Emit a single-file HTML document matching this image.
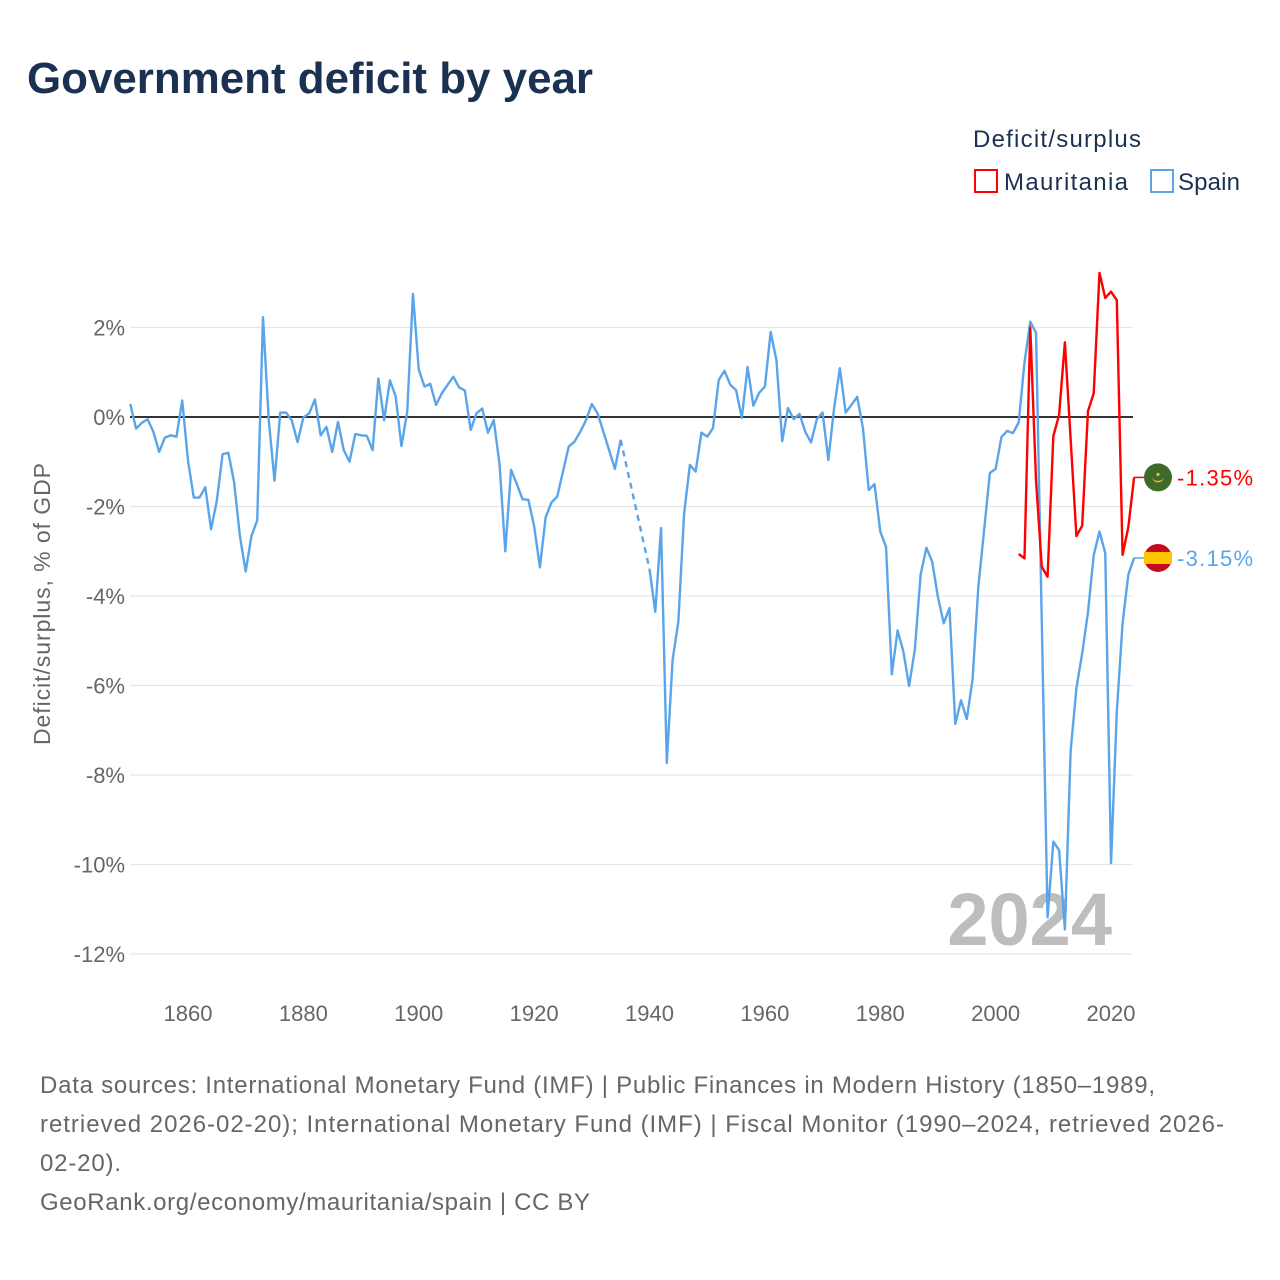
<!DOCTYPE html>
<html><head><meta charset="utf-8"><style>
body{margin:0;background:#fff;font-family:"Liberation Sans",sans-serif;}
#wrap{position:relative;width:1280px;height:1280px;overflow:hidden;}
</style></head><body>
<div id="wrap">
<svg id="chart" width="1280" height="1280" xmlns="http://www.w3.org/2000/svg">
<text x="27" y="93" font-size="44" font-weight="bold" fill="#1b3151" textLength="566" lengthAdjust="spacingAndGlyphs">Government deficit by year</text>
<g>
<text x="973" y="147" font-size="24" fill="#1b3151" textLength="168">Deficit/surplus</text>
<rect x="975" y="170" width="22" height="22" fill="none" stroke="#ff0000" stroke-width="2"/>
<text x="1004" y="190" font-size="24" fill="#1b3151" textLength="124">Mauritania</text>
<rect x="1151" y="170" width="22" height="22" fill="none" stroke="#5aa5ea" stroke-width="2"/>
<text x="1178" y="190" font-size="24" fill="#1b3151" textLength="62">Spain</text>
</g>
<text transform="translate(50,604) rotate(-90)" text-anchor="middle" font-size="23" fill="#666" textLength="282">Deficit/surplus, % of GDP</text>
<g id="grid"></g>
<text x="1112" y="945" text-anchor="end" font-size="74" font-weight="bold" fill="#bdbdbd">2024</text>
<g id="series"></g>
<g id="labels"></g>
<g font-size="24" fill="#666">
<text x="40" y="1093" textLength="1115">Data sources: International Monetary Fund (IMF) | Public Finances in Modern History (1850–1989,</text>
<text x="40" y="1132" textLength="1184">retrieved 2026-02-20); International Monetary Fund (IMF) | Fiscal Monitor (1990–2024, retrieved 2026-</text>
<text x="40" y="1171" textLength="81">02-20).</text>
<text x="40" y="1210" textLength="550">GeoRank.org/economy/mauritania/spain | CC BY</text>
</g>
</svg>
</div>
<script>
const yTicks = [2, 0, -2, -4, -6, -8, -10, -12];
const xTicks = [1860, 1880, 1900, 1920, 1940, 1960, 1980, 2000, 2020];
const spainStart = 1850;
const spainValues = [0.29,-0.26,-0.13,-0.05,-0.33,-0.78,-0.46,-0.41,-0.44,0.37,
-0.97,-1.8,-1.8,-1.57,-2.51,-1.87,-0.83,-0.8,-1.46,-2.66,
-3.45,-2.66,-2.31,2.23,-0.07,-1.42,0.1,0.1,-0.08,-0.56,
-0.01,0.08,0.39,-0.41,-0.22,-0.78,-0.11,-0.74,-1.0,-0.38,
-0.41,-0.42,-0.74,0.86,-0.07,0.82,0.46,-0.65,0.12,2.75,
1.06,0.68,0.74,0.27,0.53,0.72,0.9,0.66,0.59,-0.29,
0.08,0.19,-0.35,-0.07,-1.05,-3.0,-1.18,-1.5,-1.84,-1.85,
-2.44,-3.36,-2.24,-1.91,-1.78,-1.22,-0.66,-0.55,-0.33,-0.07,
0.29,0.08,-0.33,-0.74,-1.16,-0.51,null,null,null,null,
-3.4,-4.35,-2.48,-7.73,-5.43,-4.57,-2.15,-1.07,-1.22,-0.35,
-0.44,-0.25,0.83,1.03,0.72,0.6,-0.02,1.12,0.25,0.54,
0.68,1.9,1.27,-0.54,0.2,-0.05,0.07,-0.33,-0.57,-0.05,
0.1,-0.96,0.2,1.09,0.1,0.27,0.45,-0.25,-1.63,-1.5,
-2.56,-2.9,-5.75,-4.77,-5.24,-6.01,-5.19,-3.52,-2.92,-3.23,
-4.03,-4.61,-4.27,-6.86,-6.33,-6.75,-5.86,-3.79,-2.53,-1.25,
-1.16,-0.45,-0.31,-0.36,-0.12,1.22,2.13,1.88,-4.6,-11.18,
-9.49,-9.68,-11.45,-7.46,-6.06,-5.28,-4.37,-3.09,-2.56,-3.04,
-9.97,-6.59,-4.61,-3.52,-3.15];
const mauritaniaStart = 2004;
const mauritaniaValues = [-3.06,-3.16,2.0,-1.42,-3.35,-3.57,-0.43,0.05,1.67,-0.5,
-2.66,-2.43,0.13,0.53,3.22,2.66,2.8,2.61,-3.08,-2.46,-1.35];
const spainLabel = "-3.15%";
const mauritaniaLabel = "-1.35%";

const NS = "http://www.w3.org/2000/svg";
const X0 = 130.3, PX_YEAR = 5.769, Y0 = 417, PX_PCT = 44.75, XR = 1133;
function xs(yr){ return X0 + (yr - 1850) * PX_YEAR; }
function ys(v){ return Y0 - v * PX_PCT; }
function mk(tag, attrs, parent){ const e=document.createElementNS(NS,tag); for(const k in attrs) e.setAttribute(k, attrs[k]); parent.appendChild(e); return e; }

const grid = document.getElementById('grid');
yTicks.forEach(t=>{
  const l = mk('line',{x1:130,x2:XR,y1:ys(t),y2:ys(t),stroke:t===0?'#333':'#e6e6e6','stroke-width':t===0?2:1.2},grid);
  
  
  const tx = mk('text',{x:125,y:ys(t)+8,'text-anchor':'end','font-size':22,fill:'#666'},grid);
  tx.textContent = t + '%';
  
  
});
xTicks.forEach(t=>{
  const tx = mk('text',{x:xs(t),y:1021,'text-anchor':'middle','font-size':22,fill:'#666'},grid);
  tx.textContent = t;
  
  
});

const ser = document.getElementById('series');
function drawSeries(start, vals, color, name){
  let segs=[], cur=[], gaps=[], last=null;
  vals.forEach((v,i)=>{
    const yr = start+i;
    if(v===null){ if(cur.length){segs.push(cur);cur=[];} return; }
    if(!cur.length && last && last.i < i-1) gaps.push([last, {i, yr, v}]);
    cur.push([xs(yr), ys(v)]); last={i, yr, v};
  });
  if(cur.length) segs.push(cur);
  segs.forEach(s=>{
    const p = mk('polyline',{points:s.map(q=>q.join(',')).join(' '),fill:'none',stroke:color,'stroke-width':2.4,'stroke-linejoin':'round'},ser);
    
    
  });
  gaps.forEach(g=>{
    const p = mk('line',{x1:xs(g[0].yr),y1:ys(g[0].v),x2:xs(g[1].yr),y2:ys(g[1].v),stroke:color,'stroke-width':2.4,'stroke-dasharray':'6,5'},ser);
    
    
  });
}
drawSeries(spainStart, spainValues, '#5aa5ea', 'spain');
drawSeries(mauritaniaStart, mauritaniaValues, '#ff0000', 'mauritania');

const lab = document.getElementById('labels');
function endLabel(start, vals, color, name, text, flag){
  const lastV = vals[vals.length-1], yr = start+vals.length-1;
  const y = ys(lastV);
  const c = mk('line',{x1:xs(yr),y1:y,x2:1146,y2:y,stroke:color,'stroke-width':1.5},lab);
  
  
  const g = mk('g',{},lab);
  
  
  flag(g, 1158, y);
  const t = mk('text',{x:1177,y:y+8,'font-size':22,fill:color,textLength:76},lab);
  t.textContent = text;
  
  
}
endLabel(mauritaniaStart, mauritaniaValues, '#ff0000', 'mauritania', mauritaniaLabel, (g,cx,cy)=>{
  mk('circle',{cx,cy,r:14,fill:'#3f6b2a'},g);
  mk('path',{d:`M${cx-6} ${cy-1} A6 6 0 0 0 ${cx+6} ${cy-1} A6 4.5 0 0 1 ${cx-6} ${cy-1}Z`,fill:'#f0c020'},g);
  mk('circle',{cx,cy:cy-3,r:1.6,fill:'#f0c020'},g);
});
endLabel(spainStart, spainValues, '#5aa5ea', 'spain', spainLabel, (g,cx,cy)=>{
  mk('circle',{cx,cy,r:14,fill:'#c60b1e'},g);
  mk('rect',{x:cx-14,y:cy-6,width:28,height:12,fill:'#ffc400'},g);
});
</script>
</body></html>
